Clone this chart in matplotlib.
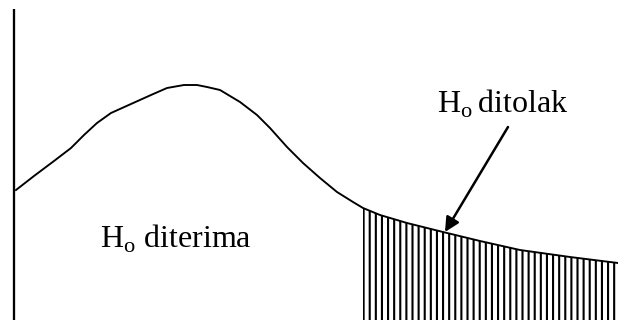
"""
Sketch of a one-tailed test: acceptance region (H0 diterima) and the
hatched rejection region (H0 ditolak) under a skewed density curve.
"""

import numpy as np
import matplotlib.pyplot as plt

# Curve (pixel-like units, y grows downward)
curve_x = [16, 34, 54, 71, 84, 97, 111, 131, 151, 167, 184, 197, 207, 220,
           240, 257, 270, 287, 303, 320, 337, 353, 363, 380, 407, 443, 480,
           520, 570, 618]
curve_y = [190, 176, 161, 148, 135, 123, 113, 104, 95, 88, 85, 85, 87, 90,
           102, 115, 128, 147, 163, 178, 192, 202, 208, 215, 223, 232, 241,
           250, 257, 263]

critical_x = 363          # start of the rejection region
axis_x = 14               # vertical axis position
axis_top = 9

label_accept = r"H$_{\mathrm{o}}$ diterima"
label_reject = r"H$_{\mathrm{o}}\,$ditolak"

# hatch spacing follows the dpi, 110 gives ~6 px between the lines
DPI = 110
PT = 72 / DPI  # points per pixel

plt.rcParams["mathtext.fontset"] = "custom"
plt.rcParams["mathtext.rm"] = "Liberation Serif"
plt.rcParams["hatch.linewidth"] = 2.1 * PT


def main():
    fig = plt.figure(figsize=(618 / DPI, 320 / DPI), dpi=DPI)
    ax = fig.add_axes([0, 0, 1, 1])
    ax.set_xlim(0, 618)
    ax.set_ylim(320, 0)
    ax.axis("off")

    x = np.array(curve_x)
    y = np.array(curve_y)

    # y axis
    ax.plot([axis_x, axis_x], [axis_top, 320], color="black", lw=2.3 * PT,
            solid_capstyle="butt")

    # rejection region
    ax.fill_between(x, y, 320, where=x >= critical_x, facecolor="none",
                    edgecolor="black", hatch="|||", linewidth=0)

    # density curve
    ax.plot(x, y, color="black", lw=1.9 * PT, solid_joinstyle="round")

    txt = dict(fontsize=32 * PT, family="Liberation Serif", color="black")
    ax.text(100, 248, label_accept, ha="left", va="baseline", **txt)
    ax.text(437, 113, label_reject, ha="left", va="baseline", **txt)

    ax.annotate("", xy=(445, 232), xytext=(508, 127),
                arrowprops=dict(arrowstyle="-|>", color="black", lw=2.5 * PT,
                                mutation_scale=30 * PT, shrinkA=0, shrinkB=0))

    fig.savefig("out.png", dpi=DPI)
    plt.close(fig)


if __name__ == "__main__":
    main()
